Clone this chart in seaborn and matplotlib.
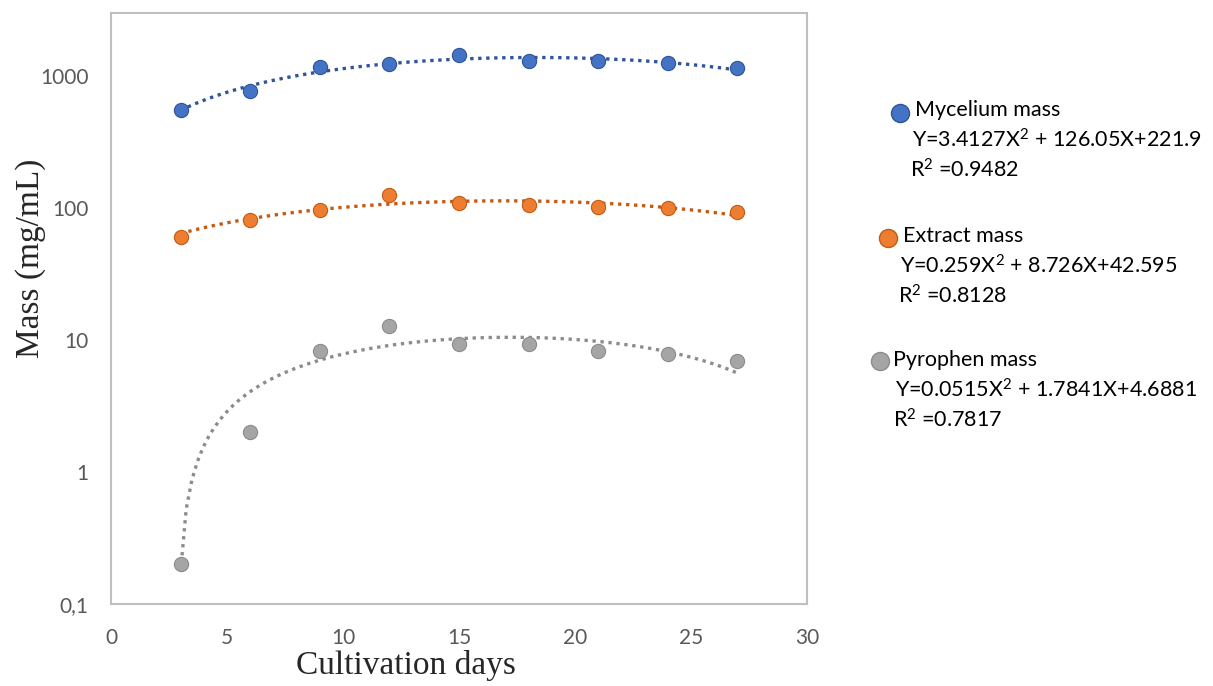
import matplotlib
matplotlib.use("Agg")
import matplotlib.pyplot as plt
import seaborn as sns
from matplotlib.lines import Line2D

# values
days = [3, 6, 9, 12, 15, 18, 21, 24, 27]
mycelium = [551, 765, 1170, 1234, 1436, 1300, 1300, 1249, 1157]
extract = [60.7, 81.3, 96.8, 126, 109, 106, 101, 99.5, 94]
pyrophen = [0.2, 2.0, 8.2, 12.7, 9.3, 9.3, 8.2, 7.8, 6.9]

names = ["Mycelium mass", "Extract mass", "Pyrophen mass"]
sq = r"$\mathregular{^2}$"
equations = ["Y=3.4127X" + sq + " + 126.05X+221.9",
             "Y=0.259X" + sq + " + 8.726X+42.595",
             "Y=0.0515X" + sq + " + 1.7841X+4.6881"]
r2_labels = ["R" + sq + " =0.9482", "R" + sq + " =0.8128", "R" + sq + " =0.7817"]
colors = ["#4472C4", "#ED7D31", "#A5A5A5"]
edges = ["#2F5597", "#C55A11", "#8C8C8C"]

y_ticks = [0.1, 1, 10, 100, 1000]
y_tick_labels = ["0,1", "1", "10", "100", "1000"]
x_ticks = [0, 5, 10, 15, 20, 25, 30]

sns.set_style("white")
plt.rcParams["font.family"] = ["Lato", "DejaVu Sans"]
plt.rcParams["mathtext.fontset"] = "custom"
plt.rcParams["mathtext.rm"] = "Lato"

fig = plt.figure(figsize=(12.13, 6.86), dpi=100)
ax = fig.add_axes([0.0915, 0.1195, 0.5738, 0.8615])
ax.set_yscale("log")

for ys, c, ec in zip([mycelium, extract, pyrophen], colors, edges):
    sns.regplot(x=days, y=ys, order=2, ci=None, ax=ax,
                scatter_kws=dict(s=105, color=c, edgecolor=ec, linewidths=0.8, alpha=1, zorder=3),
                line_kws=dict(color=ec, ls=(0, (1, 1.4)), lw=2.4, zorder=2))

ax.set_xlim(0, 30)
ax.set_ylim(0.1, 3000)
ax.set_xticks(x_ticks)
ax.set_xticklabels([str(v) for v in x_ticks])
ax.set_yticks(y_ticks)
ax.set_yticklabels(y_tick_labels)
ax.yaxis.set_minor_locator(matplotlib.ticker.NullLocator())
ax.tick_params(axis="both", length=0, labelsize=15, labelcolor="#595959")
ax.tick_params(axis="x", pad=17)
ax.tick_params(axis="y", pad=16)
for sp in ax.spines.values():
    sp.set_color("#BFBFBF")
    sp.set_linewidth(1.5)

ax.set_xlabel("Cultivation days", family="Liberation Serif", fontsize=24)
ax.set_ylabel("Mass (mg/mL)", family="Liberation Serif", fontsize=24)
ax.xaxis.set_label_coords(0.424, -0.077)
ax.yaxis.set_label_coords(-0.093, 0.585)

# legend block on the right
W, H = 1213, 686
blocks = [(900, 113, 915, 912, 110), (888, 238, 903, 900, 236), (880, 361, 893, 895, 360)]
for (mx, my, tx, ex, ty), name, eq, r2, c, ec in zip(blocks, names, equations, r2_labels, colors, edges):
    fig.add_artist(Line2D([mx / W], [1 - my / H], marker="o", markersize=13,
                          color=c, markeredgecolor=ec, markeredgewidth=1,
                          transform=fig.transFigure))
    fig.text(tx / W, 1 - ty / H, name, fontsize=15.5, va="center", ha="left", color="black")
    fig.text(ex / W, 1 - (ty + 30) / H, eq, fontsize=15.5, va="center", ha="left", color="black")
    fig.text((ex - 2) / W, 1 - (ty + 60) / H, r2, fontsize=15.5, va="center", ha="left", color="black")

fig.savefig("out.png", dpi=100)
